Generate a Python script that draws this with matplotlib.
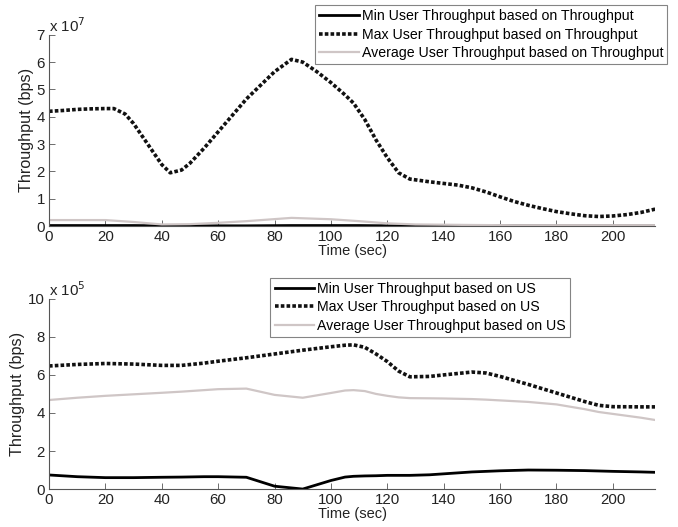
import matplotlib
matplotlib.use("Agg")
import matplotlib.pyplot as plt

plt.rcParams['font.family'] = ['Liberation Sans', 'DejaVu Sans']

# ---- Top panel data (units of 1e7 bps) ----
t_top = [0, 5, 10, 15, 20, 23, 27, 30, 35, 40, 43, 47, 50, 55, 60, 65, 70, 75, 80, 86, 90, 95, 100,
         105, 108, 112, 116, 120, 124, 128, 135, 140, 145, 150, 155, 160, 165, 170, 175, 180, 185,
         190, 195, 200, 205, 210, 215]
max_top = [4.2, 4.23, 4.27, 4.29, 4.3, 4.3, 4.1, 3.75, 3.0, 2.25, 1.95, 2.05, 2.3, 2.85, 3.45, 4.05,
           4.65, 5.15, 5.65, 6.1, 6.0, 5.65, 5.25, 4.8, 4.5, 3.9, 3.15, 2.5, 1.95, 1.72, 1.62, 1.56,
           1.5, 1.4, 1.25, 1.07, 0.9, 0.76, 0.64, 0.53, 0.45, 0.38, 0.35, 0.37, 0.42, 0.5, 0.62]
t_top_s = [0, 20, 30, 40, 50, 60, 70, 86, 100, 110, 120, 130, 140, 150, 165, 180, 200, 215]
min_top = [0.02, 0.02, 0.02, 0.01, 0.01, 0.01, 0.01, 0.02, 0.02, 0.02, 0.01, 0.01, 0.01, 0.01, 0.01,
           0.005, 0.005, 0.005]
avg_top = [0.22, 0.22, 0.15, 0.06, 0.07, 0.12, 0.18, 0.3, 0.25, 0.18, 0.1, 0.06, 0.05, 0.04, 0.03,
           0.03, 0.03, 0.03]

# ---- Bottom panel data (units of 1e5 bps) ----
t_bot = [0, 10, 20, 30, 40, 47, 55, 60, 70, 80, 90, 100, 105, 108, 112, 116, 120, 124, 128, 135,
         140, 150, 155, 160, 170, 180, 190, 195, 200, 210, 215]
max_bot = [6.47, 6.55, 6.6, 6.57, 6.5, 6.5, 6.62, 6.72, 6.9, 7.1, 7.3, 7.48, 7.56, 7.58, 7.45, 7.1,
           6.7, 6.2, 5.9, 5.92, 6.0, 6.15, 6.1, 5.92, 5.5, 5.05, 4.6, 4.4, 4.33, 4.32, 4.32]
avg_bot = [4.68, 4.8, 4.9, 4.98, 5.06, 5.12, 5.2, 5.25, 5.28, 4.95, 4.8, 5.05, 5.18, 5.2, 5.15, 5.0,
           4.9, 4.82, 4.78, 4.77, 4.76, 4.73, 4.7, 4.66, 4.58, 4.45, 4.2, 4.05, 3.95, 3.75, 3.63]
min_bot = [0.74, 0.65, 0.6, 0.6, 0.62, 0.63, 0.65, 0.65, 0.62, 0.15, 0.0, 0.45, 0.63, 0.67, 0.69,
           0.7, 0.72, 0.72, 0.72, 0.75, 0.8, 0.9, 0.93, 0.96, 1.0, 0.99, 0.97, 0.95, 0.93, 0.9, 0.88]

labels_top = ["Min User Throughput based on Throughput",
              "Max User Throughput based on Throughput",
              "Average User Throughput based on Throughput"]
labels_bot = ["Min User Throughput based on US",
              "Max User Throughput based on US",
              "Average User Throughput based on US"]

xticks = [0, 20, 40, 60, 80, 100, 120, 140, 160, 180, 200]
fig = plt.figure(figsize=(6.78, 5.27), dpi=100)

gray = '#cfc6c6'
fs = 10.8
lfs = 10.2


def style(ax, ymax, ystep, exp):
    ax.set_xlim(0, 215)
    ax.set_ylim(0, ymax)
    ax.set_xticks(xticks)
    ax.set_yticks(list(range(0, ymax + 1, ystep)))
    for s in ['top', 'right']:
        ax.spines[s].set_visible(False)
    for s in ['left', 'bottom']:
        ax.spines[s].set_color('#555555')
        ax.spines[s].set_linewidth(0.8)
    ax.tick_params(direction='in', length=4, width=0.6, colors='#555555',
                   labelcolor='#222222', labelsize=fs, pad=3)
    ax.set_xlabel("Time (sec)", fontsize=10.5, color='#222222', labelpad=0)
    ax.set_ylabel("Throughput (bps)", fontsize=11.6, color='#222222', labelpad=2)
    ax.text(0.0, 1.0, r"x 10$^{%d}$" % exp, transform=ax.transAxes, fontsize=fs,
            color='#222222', ha='left', va='bottom')


leg_kw = dict(fontsize=lfs, frameon=True, fancybox=False, edgecolor='#666666',
              handlelength=2.8, handletextpad=0.2, borderpad=0.3, labelspacing=0.3,
              borderaxespad=0)

ax1 = fig.add_axes([0.0723, 0.571, 0.894, 0.363])
ax1.plot(t_top_s, min_top, color='black', lw=2.0, label=labels_top[0])
ax1.plot(t_top, max_top, color='#111111', lw=2.6, ls=(0, (1, 0.6)), label=labels_top[1])
ax1.plot(t_top_s, avg_top, color=gray, lw=1.6, label=labels_top[2])
style(ax1, 7, 1, 7)
leg1 = ax1.legend(loc='upper right', bbox_to_anchor=(1.02, 1.155), **leg_kw)
leg1.get_frame().set_linewidth(0.8)

ax2 = fig.add_axes([0.0723, 0.072, 0.894, 0.361])
ax2.plot(t_bot, min_bot, color='black', lw=2.0, label=labels_bot[0])
ax2.plot(t_bot, max_bot, color='#111111', lw=2.6, ls=(0, (1, 0.6)), label=labels_bot[1])
ax2.plot(t_bot, avg_bot, color=gray, lw=1.6, label=labels_bot[2])
style(ax2, 10, 2, 5)
leg2 = ax2.legend(loc='upper left', bbox_to_anchor=(0.365, 1.11), **leg_kw)
leg2.get_frame().set_linewidth(0.8)

fig.savefig("out.png", dpi=100)
